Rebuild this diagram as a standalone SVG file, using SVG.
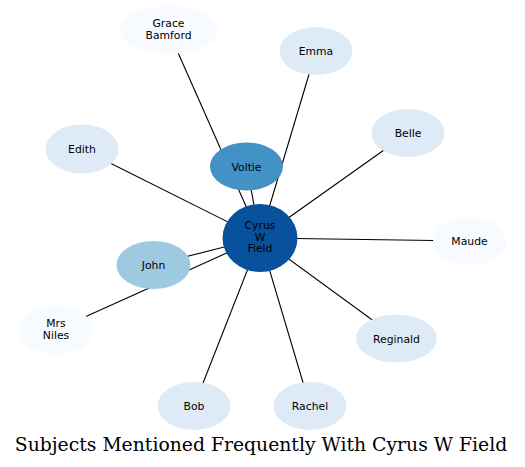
<svg xmlns="http://www.w3.org/2000/svg" width="525" height="467" viewBox="0 0 525 467">
<style>
.e{stroke:#000;stroke-width:1.1;fill:none}
.n text{font-family:"DejaVu Sans",sans-serif;font-size:10.8px;text-anchor:middle;fill:#000}
.l1{fill:#f7fbff}.l2{fill:#deebf7}.l3{fill:#9ecae1}.l4{fill:#4292c6}.l5{fill:#08519c}
.t{font-family:"DejaVu Serif",serif;font-size:18.8px;text-anchor:middle;fill:#000}
</style>
<rect width="525" height="467" fill="#fff"/>
<g id="edges">
<line class="e" x1="168" y1="30" x2="260" y2="238"/>
<line class="e" x1="316" y1="51" x2="260" y2="238"/>
<line class="e" x1="408" y1="133" x2="260" y2="238"/>
<line class="e" x1="82" y1="149" x2="260" y2="238"/>
<line class="e" x1="247" y1="167" x2="260" y2="238"/>
<line class="e" x1="469" y1="241" x2="260" y2="238"/>
<line class="e" x1="153" y1="265" x2="260" y2="238"/>
<line class="e" x1="56" y1="330" x2="260" y2="238"/>
<line class="e" x1="397" y1="338" x2="260" y2="238"/>
<line class="e" x1="194" y1="406" x2="260" y2="238"/>
<line class="e" x1="310" y1="406" x2="260" y2="238"/>
</g>
<g id="grace" class="n"><ellipse class="l1" cx="168.5" cy="30" rx="49" ry="24"/><text x="168.5" y="27">Grace</text><text x="168.5" y="38.5">Bamford</text></g>
<g id="emma" class="n"><ellipse class="l2" cx="316" cy="51" rx="36.5" ry="24"/><text x="316" y="55">Emma</text></g>
<g id="belle" class="n"><ellipse class="l2" cx="408" cy="133" rx="36.5" ry="24"/><text x="408" y="137">Belle</text></g>
<g id="edith" class="n"><ellipse class="l2" cx="82" cy="149" rx="36.5" ry="24.5"/><text x="82" y="153">Edith</text></g>
<g id="voltie" class="n"><ellipse class="l4" cx="246.5" cy="166.5" rx="36.5" ry="24"/><text x="246.5" y="170.5">Voltie</text></g>
<g id="cyrus" class="n"><ellipse class="l5" cx="260" cy="238" rx="37.5" ry="34"/><text x="260" y="229">Cyrus</text><text x="260" y="240.5">W</text><text x="260" y="252">Field</text></g>
<g id="john" class="n"><ellipse class="l3" cx="153.5" cy="265" rx="37" ry="24"/><text x="153.5" y="269">John</text></g>
<g id="maude" class="n"><ellipse class="l1" cx="469.5" cy="241" rx="36.5" ry="24"/><text x="469.5" y="245">Maude</text></g>
<g id="mrsniles" class="n"><ellipse class="l1" cx="56" cy="330" rx="36.5" ry="24.5"/><text x="56" y="326.5">Mrs</text><text x="56" y="338.5">Niles</text></g>
<g id="reginald" class="n"><ellipse class="l2" cx="396.5" cy="338.5" rx="40.5" ry="24"/><text x="396.5" y="342.5">Reginald</text></g>
<g id="bob" class="n"><ellipse class="l2" cx="194" cy="406" rx="36.5" ry="24"/><text x="194" y="410">Bob</text></g>
<g id="rachel" class="n"><ellipse class="l2" cx="310" cy="406" rx="36.5" ry="24"/><text x="310" y="410">Rachel</text></g>
<text class="t" x="261" y="451">Subjects Mentioned Frequently With Cyrus W Field</text>
</svg>
